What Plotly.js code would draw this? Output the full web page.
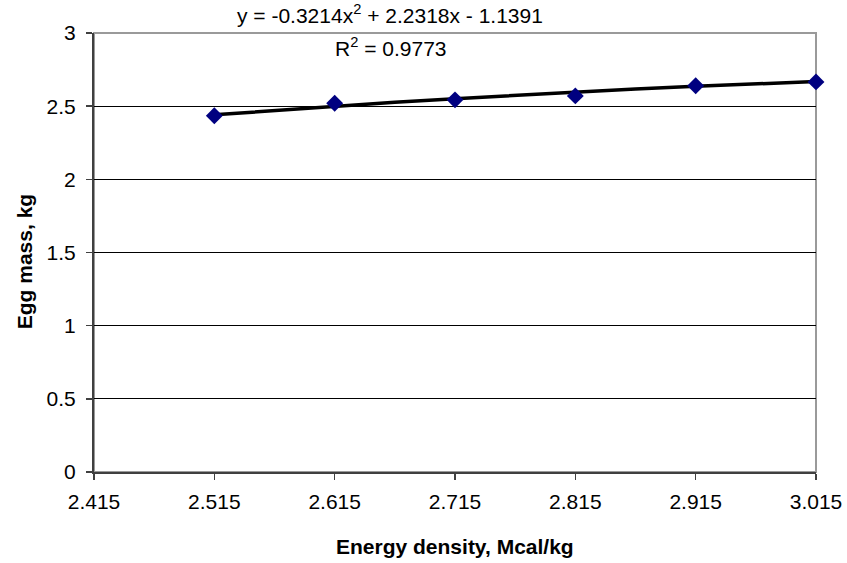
<!DOCTYPE html>
<html>
<head>
<meta charset="utf-8">
<script src="https://cdn.plot.ly/plotly-3.0.1.min.js"></script>
<style>html,body{margin:0;padding:0;background:#fff;}#chart{width:847px;height:563px;}</style>
</head>
<body>
<div id="chart"></div>
<script>
const energyDensity = [2.515, 2.615, 2.715, 2.815, 2.915, 3.015];
const eggMass = [2.435, 2.52, 2.543, 2.57, 2.64, 2.666];
const trendX = [2.515, 2.565, 2.615, 2.665, 2.715, 2.765, 2.815, 2.865, 2.915, 2.965, 3.015];
const trendY = [2.441, 2.471, 2.499, 2.526, 2.551, 2.574, 2.597, 2.617, 2.636, 2.653, 2.668];
const xTicks = [2.415, 2.515, 2.615, 2.715, 2.815, 2.915, 3.015];
const xTickLabels = ["2.415", "2.515", "2.615", "2.715", "2.815", "2.915", "3.015"];
const yTicks = [0, 0.5, 1, 1.5, 2, 2.5, 3];
const yTickLabels = ["0", "0.5", "1", "1.5", "2", "2.5", "3"];

const font = "Liberation Sans, Arial, sans-serif";

const traces = [
  {
    x: trendX, y: trendY, mode: 'lines', type: 'scatter',
    line: {color: '#000000', width: 3.5},
    hoverinfo: 'skip', showlegend: false
  },
  {
    x: energyDensity, y: eggMass, mode: 'markers', type: 'scatter',
    marker: {symbol: 'diamond', size: 13, color: '#000080'},
    showlegend: false, cliponaxis: false
  }
];

const layout = {
  width: 847, height: 563,
  margin: {l: 94, r: 31, t: 33, b: 91},
  paper_bgcolor: '#ffffff', plot_bgcolor: '#ffffff',
  font: {family: font, size: 21, color: '#000'},
  showlegend: false,
  xaxis: {
    range: [2.415, 3.015], tickmode: 'array', tickvals: xTicks, ticktext: xTickLabels,
    showgrid: false, zeroline: false, showline: true, linecolor: '#404040', linewidth: 2,
    ticks: 'outside', ticklen: 6, tickcolor: '#404040', tickwidth: 1.5,
    ticklabelstandoff: 4,
    tickfont: {family: font, size: 21, color: '#000'}
  },
  yaxis: {
    range: [0, 3], tickmode: 'array', tickvals: yTicks, ticktext: yTickLabels,
    showgrid: true, gridcolor: '#000000', gridwidth: 1, zeroline: false,
    showline: true, linecolor: '#404040', linewidth: 2,
    ticks: 'outside', ticklen: 6, tickcolor: '#404040', tickwidth: 1.5,
    ticklabelstandoff: 6,
    tickfont: {family: font, size: 21, color: '#000'}
  },
  shapes: [
    {type: 'rect', xref: 'paper', yref: 'paper', x0: 0, x1: 1, y0: 0, y1: 1,
     line: {color: '#9a9a9a', width: 2}, layer: 'below'}
  ],
  annotations: [
    {text: 'y = -0.3214x<sup>2</sup> + 2.2318x - 1.1391', xref: 'paper', yref: 'paper',
     x: 0.41, y: 1.043, xanchor: 'center', yanchor: 'middle', showarrow: false,
     font: {family: font, size: 21, color: '#000'}},
    {text: 'R<sup>2</sup> = 0.9773', xref: 'paper', yref: 'paper',
     x: 0.412, y: 0.968, xanchor: 'center', yanchor: 'middle', showarrow: false,
     font: {family: font, size: 21, color: '#000'}},
    {text: '<b>Energy density, Mcal/kg</b>', xref: 'paper', yref: 'paper',
     x: 0.5, y: -0.17, xanchor: 'center', yanchor: 'middle', showarrow: false,
     font: {family: font, size: 21, color: '#000'}},
    {text: '<b>Egg mass, kg</b>', xref: 'paper', yref: 'paper', textangle: -90,
     x: -0.097, y: 0.48, xanchor: 'center', yanchor: 'middle', showarrow: false,
     font: {family: font, size: 21, color: '#000'}}
  ]
};

Plotly.newPlot('chart', traces, layout, {displayModeBar: false, staticPlot: true});
</script>
</body>
</html>
